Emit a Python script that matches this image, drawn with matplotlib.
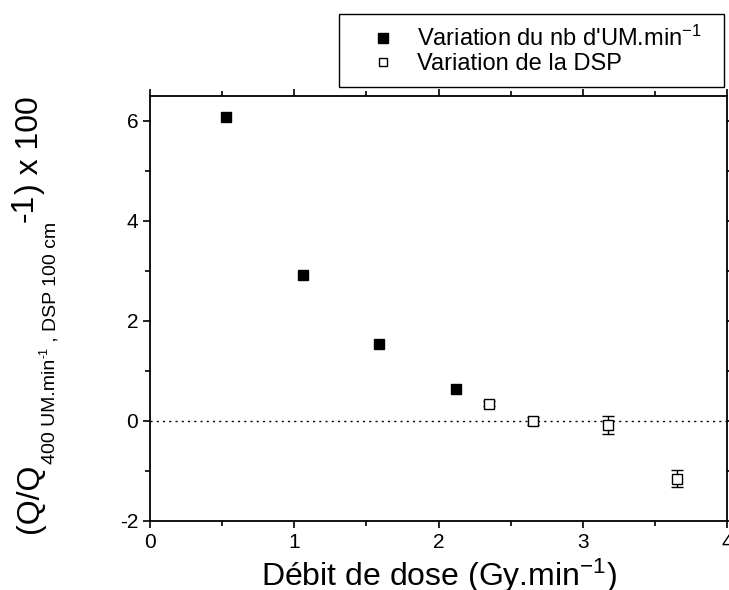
import matplotlib
matplotlib.use("Agg")
import matplotlib.pyplot as plt
from matplotlib.ticker import MultipleLocator
from matplotlib.lines import Line2D
from matplotlib.patches import Rectangle
from matplotlib.transforms import IdentityTransform

plt.rcParams['font.family'] = ['Liberation Sans', 'DejaVu Sans']
plt.rcParams['mathtext.fontset'] = 'custom'
plt.rcParams['mathtext.rm'] = 'Liberation Sans'
plt.rcParams['mathtext.it'] = 'Liberation Sans'
plt.rcParams['mathtext.bf'] = 'Liberation Sans'
plt.rcParams['axes.unicode_minus'] = False

# Data
um_x = [0.53, 1.06, 1.59, 2.12]
um_y = [6.09, 2.93, 1.55, 0.65]
dsp_x = [2.35, 2.655, 3.175, 3.65]
dsp_y = [0.35, 0.0, -0.08, -1.15]
dsp_err = [0.05, 0.08, 0.18, 0.17]

x_ticks = [0, 1, 2, 3, 4]
y_ticks = [-2, 0, 2, 4, 6]
legend_labels = ["Variation du nb d'UM.min$^{-1}$", "Variation de la DSP"]

W, H = 729, 590
fig = plt.figure(figsize=(W / 100, H / 100), dpi=100)
ax = fig.add_axes([150 / W, (H - 521) / H, (727 - 150) / W, (521 - 96) / H])

ax.axhline(0, color='black', linestyle=(0, (1.5, 3)), linewidth=1.0, zorder=1)

ax.plot(um_x, um_y, linestyle='none', marker='s', markersize=7, color='black',
        markeredgecolor='black', zorder=3)
ax.errorbar(dsp_x, dsp_y, yerr=dsp_err, linestyle='none', marker='s', markersize=7,
            markerfacecolor='white', markeredgecolor='black', markeredgewidth=1.0,
            ecolor='black', elinewidth=1.0, capsize=4.5, capthick=1.0, zorder=3)

ax.set_xlim(0, 4)
ax.set_ylim(-2, 6.5)
ax.set_xticks(x_ticks)
ax.set_yticks(y_ticks)
ax.xaxis.set_minor_locator(MultipleLocator(0.5))
ax.yaxis.set_minor_locator(MultipleLocator(1))
ax.tick_params(which='both', direction='out', top=True, right=True,
               labeltop=False, labelright=False, width=1.2, labelsize=15)
ax.tick_params(which='major', length=5)
ax.tick_params(which='minor', length=3.5)
for s in ax.spines.values():
    s.set_linewidth(1.3)

# x label
fig.text(438.5 / W, 4 / H, 'Débit de dose (Gy.min$^{-1}$)', fontsize=23,
         ha='center', va='baseline')

# y label built from pieces (main text, subscript, raised -1)
fig.canvas.draw()
renderer = fig.canvas.get_renderer()
base_x = 38
y_pos = H - 533
pieces = [
    ("(Q/Q", 23, 0),
    ("400 UM.min", 14, 17),
    ("-1", 9, 9),
    (" , DSP 100 cm", 14, 17),
    ("-1", 23, -5),
    (") x 100", 23, 0),
]
for txt, size, dx in pieces:
    t = fig.text(base_x + dx, y_pos, txt, fontsize=size, rotation=90,
                 rotation_mode='anchor', ha='left', va='baseline',
                 transform=IdentityTransform())
    bb = t.get_window_extent(renderer)
    y_pos = bb.y1

# legend
fig.add_artist(Rectangle((339 / W, 1 - 87 / H), (724 - 339) / W, (87 - 14) / H,
                         transform=fig.transFigure, fill=False,
                         edgecolor='black', linewidth=1.0))
handles = [
    Line2D([], [], linestyle='none', marker='s', markersize=6.5, color='black'),
    Line2D([], [], linestyle='none', marker='s', markersize=6, markerfacecolor='white',
           markeredgecolor='black', markeredgewidth=1.0),
]
fig.legend(handles, legend_labels, loc='center left',
           bbox_to_anchor=(339 / W, 1 - 50.5 / H), frameon=False, fontsize=17,
           borderpad=0.86, handlelength=2.0, handletextpad=0.44,
           labelspacing=0.1, borderaxespad=0)

fig.savefig('out.png', dpi=100)
